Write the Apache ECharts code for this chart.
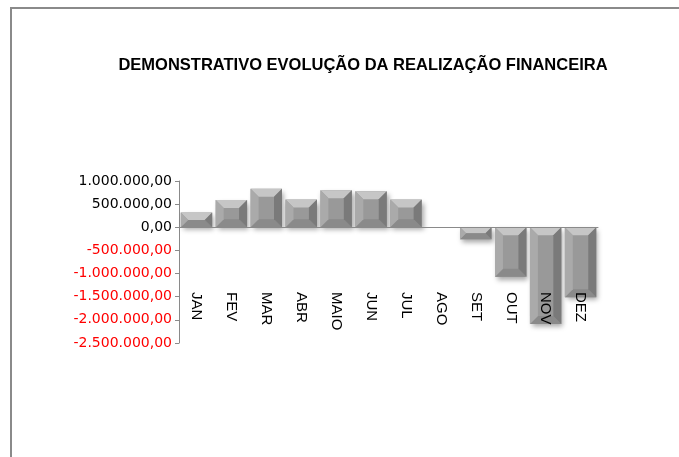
<!DOCTYPE html>
<html style="height:100%;">
<head>
    <meta charset="utf-8">
    <script src="https://cdn.jsdelivr.net/npm/echarts@6/dist/echarts.min.js"></script>
</head>
<body style="height:100%;margin:0;">
    <div id="frame" style="position:absolute;left:10px;top:7px;width:669px;height:450px;border-left:2px solid #8a8a8a;border-top:2px solid #8a8a8a;"></div>
    <div id="main" style="position:absolute;left:0;top:0;width:679px;height:457px;"></div>
</body>
</html>
<script>
    // meses e valores
    var meses = ['JAN', 'FEV', 'MAR', 'ABR', 'MAIO', 'JUN', 'JUL', 'AGO', 'SET', 'OUT', 'NOV', 'DEZ'];
    var valores = [320000, 590000, 830000, 600000, 800000, 780000, 600000, 0, -260000, -1070000, -2090000, -1510000];
    var yTicks = [-2500000, 1000000, 500000];

    function formata(v) {
        var neg = v < 0;
        var s = Math.abs(v).toFixed(0).replace(/\B(?=(\d{3})+(?!\d))/g, '.');
        return (neg ? '-' : '') + s + ',00';
    }

    var dados = [];
    for (var i = 0; i < valores.length; i++) {
        dados.push([i, valores[i]]);
    }

    // barra com chanfro (estilo excel)
    function desenhaBarra(params, api) {
        var i = api.value(0);
        var base = api.coord([i, 0]);
        var topo = api.coord([i, api.value(1)]);
        var w = api.size([1, 0])[0] * 0.9;
        var x0 = base[0] - w / 2, x1 = base[0] + w / 2;
        var y0 = Math.min(base[1], topo[1]), y1 = Math.max(base[1], topo[1]);
        var h = y1 - y0;
        if (h < 0.5) return null;
        var b = Math.min(8, h / 2, w / 2);
        function poly(pts, cor) {
            return { type: 'polygon', shape: { points: pts }, style: { fill: cor } };
        }
        return {
            type: 'group',
            children: [
                { type: 'rect', shape: { x: x0, y: y0, width: w, height: h },
                  style: { fill: '#999', shadowBlur: 5, shadowOffsetX: 2, shadowOffsetY: 3, shadowColor: 'rgba(0,0,0,0.35)' } },
                poly([[x0 + b, y0 + b], [x1 - b, y0 + b], [x1 - b, y1 - b], [x0 + b, y1 - b]], '#999999'),
                poly([[x0, y0], [x1, y0], [x1 - b, y0 + b], [x0 + b, y0 + b]], '#c6c6c6'),
                poly([[x0, y1], [x1, y1], [x1 - b, y1 - b], [x0 + b, y1 - b]], '#8a8a8a'),
                poly([[x0, y0], [x0 + b, y0 + b], [x0 + b, y1 - b], [x0, y1]], '#aaaaaa'),
                poly([[x1, y0], [x1 - b, y0 + b], [x1 - b, y1 - b], [x1, y1]], '#7a7a7a')
            ]
        };
    }

    var myChart = echarts.init(document.getElementById('main'));
    var option = {
        animation: false,
        title: {
            text: 'DEMONSTRATIVO EVOLUÇÃO DA REALIZAÇÃO FINANCEIRA',
            left: 358,
            textAlign: 'center',
            top: 52,
            textStyle: { fontFamily: 'Liberation Sans', fontSize: 16.5, fontWeight: 'bold', color: '#000' }
        },
        grid: { left: 179, right: 81, top: 181, bottom: 114 },
        xAxis: {
            type: 'category',
            data: meses,
            z: 10,
            axisLine: { onZero: true, lineStyle: { color: '#8a8a8a', width: 1 } },
            axisTick: { show: false },
            axisLabel: { rotate: -90, margin: -51, color: '#000', fontSize: 15, fontFamily: 'Liberation Sans' }
        },
        yAxis: {
            type: 'value',
            min: yTicks[0],
            max: yTicks[1],
            interval: yTicks[2],
            splitLine: { show: false },
            axisLine: { show: true, lineStyle: { color: '#8a8a8a' } },
            axisTick: { show: true, length: 4, lineStyle: { color: '#8a8a8a' } },
            axisLabel: {
                margin: 7,
                fontSize: 14,
                fontFamily: 'DejaVu Sans',
                formatter: function (v) { return formata(v); },
                color: function (v) { return Number(v) < 0 ? '#ff0000' : '#000'; }
            }
        },
        series: [{
            type: 'custom',
            renderItem: desenhaBarra,
            encode: { x: 0, y: 1 },
            data: dados
        }]
    };
    myChart.setOption(option);
</script>
